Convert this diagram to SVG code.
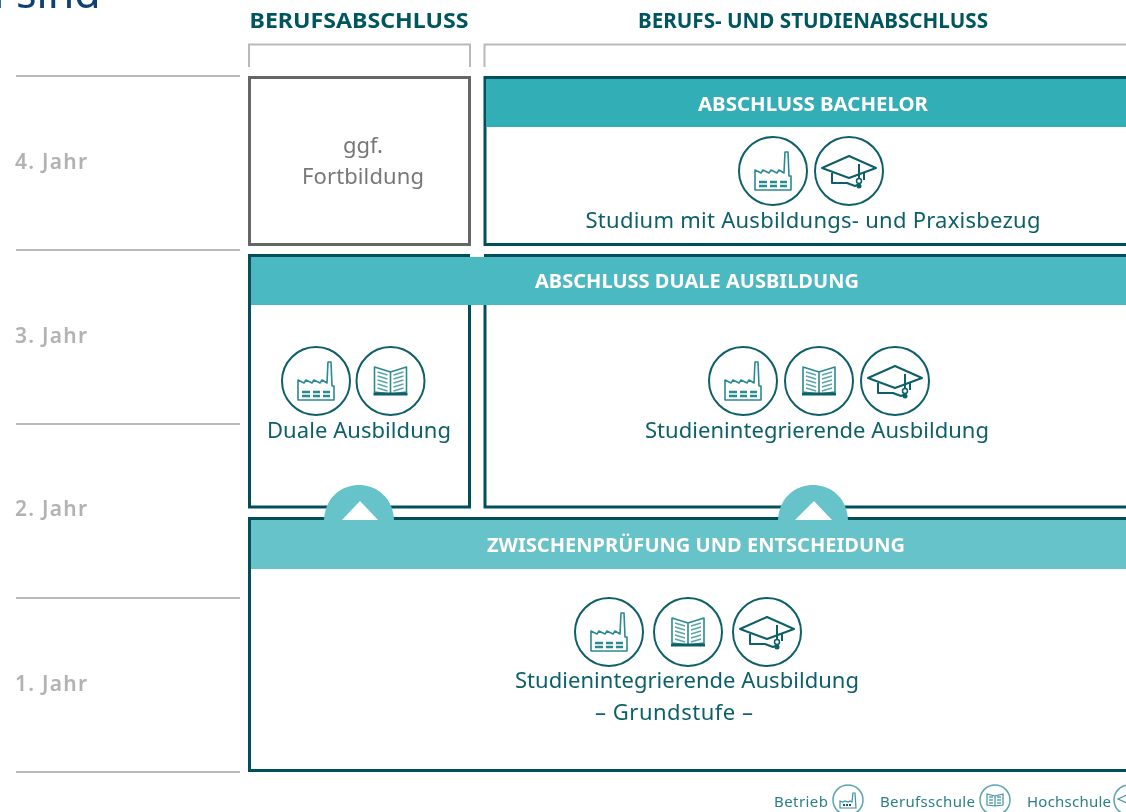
<svg xmlns="http://www.w3.org/2000/svg" width="1126" height="812" viewBox="0 0 1126 812">
<style>
text{font-family:"Noto Sans","Liberation Sans",sans-serif}
.rule{fill:none;stroke:#b9b9b9;stroke-width:2}
.box{fill:#fff;stroke:#00505a;stroke-width:3}
.year{font-size:21px;font-weight:600;fill:#b2b2b2}
.head{font-size:21px;font-weight:700;fill:#00575f;text-anchor:middle}
.band{font-size:20px;font-weight:700;fill:#fff;text-anchor:middle;filter:url(#glow)}
.lbl{font-size:22px;fill:#0b5f68;text-anchor:middle}
.leg{font-size:15px;fill:#2b7f88}
.ring{fill:#fff;stroke:#0d5f68;stroke-width:2}
.ic{fill:none;stroke:#2a8a93;stroke-width:1.6;stroke-linejoin:round}
.ic2{fill:none;stroke:#0d5f68;stroke-width:2;stroke-linejoin:round}
.ln{fill:none;stroke:#5aa6ad;stroke-width:1.5}
.win{fill:none;stroke:#2a8a93;stroke-width:2.6}
.mr{fill:#fff;stroke:#5aa6ad;stroke-width:1.5}
.mi{fill:none;stroke:#3f929a;stroke-width:1.2}
</style>
<defs>
<filter id="glow" x="-5%" y="-30%" width="110%" height="160%"><feGaussianBlur in="SourceAlpha" stdDeviation="1"/><feOffset dy="1"/><feFlood flood-color="#00505a" flood-opacity=".55" result="c"/><feComposite in="c" in2="SourceGraphic" operator="in"/><feGaussianBlur stdDeviation="0.6"/><feMerge><feMergeNode/><feMergeNode in="SourceGraphic"/></feMerge></filter>
<filter id="soft" x="0" y="0" width="100%" height="100%"><feGaussianBlur stdDeviation="0.35"/></filter>
<g id="factory"><circle class="ring" r="34"/><path class="ic" d="M-18 19V-1L-12 2-10-1-4 2-2-1 4 2 6-1 11 2 12-19H15L16 5H18V19Z"/><path class="win" d="M-14 11H-6M-3 11H4M7 11H14"/><path class="win" d="M-14 15H-6M-3 15H4M7 15H14" stroke-width="2"/></g>
<g id="book"><circle class="ring" r="34"/><path class="ic" d="M-16-14 0-9 16-14V11L0 13-16 11ZM0-9V13"/><path class="ln" d="M-13-9-3-6M-13-5-3-2M-13-1-3 2M-13 3-3 6M-13 7-3 10M13-9 3-6M13-5 3-2M13-1 3 2M13 3 3 6M13 7 3 10"/><path d="M-17 11.500H17V14.500H-17Z" fill="#0d5f68"/></g>
<g id="cap"><circle class="ring" r="34"/><path class="ic2" d="M-27-3 0-15 27-3 0 7Z"/><path class="ic2" d="M-17 2V12L-2 12 6 15 11 13M15 2V9"/><path class="ic2" d="M10-7V10"/><circle cx="10" cy="10" r="2.500" fill="#fff" stroke="#0d5f68" stroke-width="1.500"/><circle cx="10" cy="15" r="2.500" fill="#0d5f68"/></g>
<g id="mfactory"><circle class="mr" r="15"/><path class="mi" d="M-8 8V1L-5 2-3 1 0 2 2 1 4 2 5-7H7L8 8Z"/><path d="M-5 5H3" stroke="#0d5f68" stroke-width="2" stroke-dasharray="2 1"/></g>
<g id="mbook"><circle class="mr" r="15"/><path class="mi" d="M-8-6 0-4 8-6V5L0 6-8 5ZM0-4V6"/><path class="ln" d="M-6-3H-2M-6 0H-2M-6 3H-2M2-3H6M2 0H6M2 3H6" stroke-width="1.300"/></g>
<g id="mcap"><circle class="mr" r="15"/><path class="mi" d="M-11-1 0-6 11-1 0 4Z"/></g>
</defs>
<rect width="1126" height="812" fill="#fff"/>
<g filter="url(#soft)">
<g id="title"><text x="16" y="8" font-size="43" style="fill:#0a3f73">sind</text><rect x="0" y="0" width="1" height="8" fill="#2a6fa8"/></g>
<g id="connectors">
<path class="rule" d="M16 76H240M16 250H240M16 424H240M16 598H240M16 772H240"/>
<path class="rule" d="M249 67V44.500H470V67M484.500 67V44.500H1130"/>
</g>
<g id="years">
<text class="year" x="15" y="169" textLength="72">4. Jahr</text>
<text class="year" x="15" y="343" textLength="72">3. Jahr</text>
<text class="year" x="15" y="516" textLength="72">2. Jahr</text>
<text class="year" x="15" y="691" textLength="72">1. Jahr</text>
</g>
<g id="headings">
<text class="head" x="359" y="28" textLength="219" lengthAdjust="spacingAndGlyphs">BERUFSABSCHLUSS</text>
<text class="head" x="813" y="28" textLength="350" lengthAdjust="spacingAndGlyphs">BERUFS- UND STUDIENABSCHLUSS</text>
</g>
<g id="node-fortbildung">
<rect x="249.500" y="77.500" width="220" height="167" fill="#fff" stroke="#666" stroke-width="3"/>
<text class="lbl" style="fill:#777" x="363" y="153" textLength="40">ggf.</text>
<text class="lbl" style="fill:#777" x="363" y="184" textLength="122">Fortbildung</text>
</g>
<g id="node-bachelor">
<rect class="box" x="485" y="77.500" width="650" height="167"/>
<rect x="486" y="79" width="650" height="48" fill="#33aeb6"/>
<text class="band" x="813" y="111" textLength="230" lengthAdjust="spacingAndGlyphs">ABSCHLUSS BACHELOR</text>
<use href="#factory" x="773" y="171"/>
<use href="#cap" x="849" y="171"/>
<text class="lbl" x="813" y="228" textLength="455">Studium mit Ausbildungs- und Praxisbezug</text>
</g>
<g id="node-duale">
<rect class="box" x="249.500" y="300" width="220" height="207"/>
<use href="#factory" x="316" y="381"/>
<use href="#book" x="390.500" y="381"/>
<text class="lbl" x="359" y="438" textLength="184">Duale Ausbildung</text>
</g>
<g id="node-studienintegriert">
<rect class="box" x="485" y="300" width="650" height="207"/>
<use href="#factory" x="743" y="381"/>
<use href="#book" x="819" y="381"/>
<use href="#cap" x="895" y="381"/>
<text class="lbl" x="817" y="438" textLength="344">Studienintegrierende Ausbildung</text>
</g>
<g id="node-abschluss-duale">
<path d="M249 255.500H470M484 255.500H1126" stroke="#00505a" stroke-width="3" fill="none"/>
<path d="M248 254H251V305H248Z" fill="#00505a"/>
<rect x="251" y="257" width="880" height="48" fill="#4cb9c1"/>
<rect x="470" y="254" width="14" height="3" fill="#fff"/>
<text class="band" x="697" y="288" textLength="324" lengthAdjust="spacingAndGlyphs">ABSCHLUSS DUALE AUSBILDUNG</text>
</g>
<g id="node-grundstufe">
<rect class="box" x="249.500" y="518.500" width="880" height="252"/>
<rect x="251" y="520" width="880" height="49" fill="#66c3ca"/>
<path d="M324 520C325 497 342 485 359 485S393 497 394 520Z" fill="#66c3ca"/>
<path d="M778 520C779 497 796 485 813 485S847 497 848 520Z" fill="#66c3ca"/>
<path d="M342 520 360 501 378 520Z" fill="#fff"/>
<path d="M795 520 814 501 832 520Z" fill="#fff"/>
<text class="band" x="696" y="552" textLength="418" lengthAdjust="spacingAndGlyphs">ZWISCHENPRÜFUNG UND ENTSCHEIDUNG</text>
<use href="#factory" x="609" y="632"/>
<use href="#book" x="688" y="632"/>
<use href="#cap" x="767" y="632"/>
<text class="lbl" x="687" y="688" textLength="344">Studienintegrierende Ausbildung</text>
<text class="lbl" x="674" y="720" textLength="158">– Grundstufe –</text>
</g>
<g id="legend">
<text class="leg" x="774" y="807" textLength="54">Betrieb</text>
<use href="#mfactory" x="848" y="800"/>
<text class="leg" x="880" y="807" textLength="95">Berufsschule</text>
<use href="#mbook" x="995" y="800"/>
<text class="leg" x="1027" y="807" textLength="84">Hochschule</text>
<use href="#mcap" x="1129" y="800"/>
</g>
</g>
</svg>
